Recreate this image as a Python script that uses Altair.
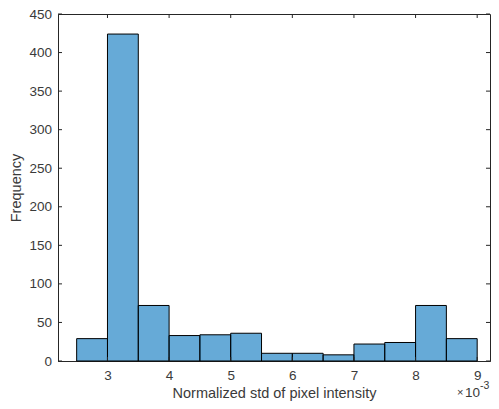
import altair as alt
import pandas as pd

bin_start = [2.5, 3.0, 3.5, 4.0, 4.5, 5.0, 5.5, 6.0, 6.5, 7.0, 7.5, 8.0, 8.5]
bin_end = [3.0, 3.5, 4.0, 4.5, 5.0, 5.5, 6.0, 6.5, 7.0, 7.5, 8.0, 8.5, 9.0]
counts = [29, 424, 72, 33, 34, 36, 10, 10, 8, 22, 24, 72, 29]
x_ticks = [3, 4, 5, 6, 7, 8, 9]
y_ticks = [0, 50, 100, 150, 200, 250, 300, 350, 400, 450]

W, H = 432, 347
FONT = "Liberation Sans"
TXT = "#262626"
LBL = "#3a3a3a"

df = pd.DataFrame({"start": bin_start, "end": bin_end, "count": counts})
xt = pd.DataFrame({"v": x_ticks})
yt = pd.DataFrame({"v": y_ticks})

xs = alt.Scale(domain=[2.197, 9.208], nice=False, zero=False)
ys = alt.Scale(domain=[0, 450], nice=False)

xaxis = alt.Axis(
    values=x_ticks, format="d", title="Normalized std of pixel intensity",
    tickSize=0, labelPadding=7, titlePadding=5, labelFont=FONT,
    titleFont=FONT, labelFontSize=13.5, titleFontSize=14.5,
    labelColor=LBL, titleColor=LBL, titleFontWeight="normal",
    domainColor=TXT, grid=False, labelOverlap=False, labelFlush=False)
yaxis = alt.Axis(
    values=y_ticks, format="d", title="Frequency", tickSize=0,
    labelPadding=6.5, titlePadding=5, labelFont=FONT, titleFont=FONT,
    labelFontSize=13.5, titleFontSize=14.5, labelColor=LBL,
    titleColor=LBL, titleFontWeight="normal", domainColor=TXT,
    grid=False, labelOverlap=False, labelFlush=False)

bars = alt.Chart(df).mark_rect(
    fill="#0072BD", fillOpacity=0.6, stroke="#000000", strokeWidth=1
).encode(
    x=alt.X("start:Q", scale=xs, axis=xaxis),
    x2="end:Q",
    y=alt.Y("count:Q", scale=ys, axis=yaxis),
    y2=alt.datum(0),
)

tick_len = 4
xb = alt.Chart(xt).mark_rule(color=TXT, strokeWidth=1).encode(
    x=alt.X("v:Q", scale=xs, axis=xaxis), y=alt.value(H), y2=alt.value(H - tick_len))
xtop = alt.Chart(xt).mark_rule(color=TXT, strokeWidth=1).encode(
    x=alt.X("v:Q", scale=xs, axis=xaxis), y=alt.value(0), y2=alt.value(tick_len))
yl = alt.Chart(yt).mark_rule(color=TXT, strokeWidth=1).encode(
    y=alt.Y("v:Q", scale=ys, axis=yaxis), x=alt.value(0), x2=alt.value(tick_len))
yr = alt.Chart(yt).mark_rule(color=TXT, strokeWidth=1).encode(
    y=alt.Y("v:Q", scale=ys, axis=yaxis), x=alt.value(W), x2=alt.value(W - tick_len))

times = alt.Chart(pd.DataFrame({"t": ["\u00d7"]})).mark_text(
    font=FONT, fontSize=11, color=LBL, align="left", baseline="alphabetic"
).encode(text="t:N", x=alt.value(399), y=alt.value(382))
ten = alt.Chart(pd.DataFrame({"t": ["10"]})).mark_text(
    font=FONT, fontSize=13.5, color=LBL, align="left", baseline="alphabetic"
).encode(text="t:N", x=alt.value(407), y=alt.value(383))
exp = alt.Chart(pd.DataFrame({"t": ["-3"]})).mark_text(
    font=FONT, fontSize=10.5, color=LBL, align="left", baseline="alphabetic"
).encode(text="t:N", x=alt.value(422), y=alt.value(375))

chart = alt.layer(bars, xb, xtop, yl, yr, times, ten, exp).properties(
    width=W, height=H,
    autosize=alt.AutoSizeParams(type="none"),
    padding={"left": 50, "top": 6, "right": 1, "bottom": 40},
).configure_view(stroke=TXT, strokeWidth=1)

chart.save("out.html", embed_options={"renderer": "svg", "actions": False})
